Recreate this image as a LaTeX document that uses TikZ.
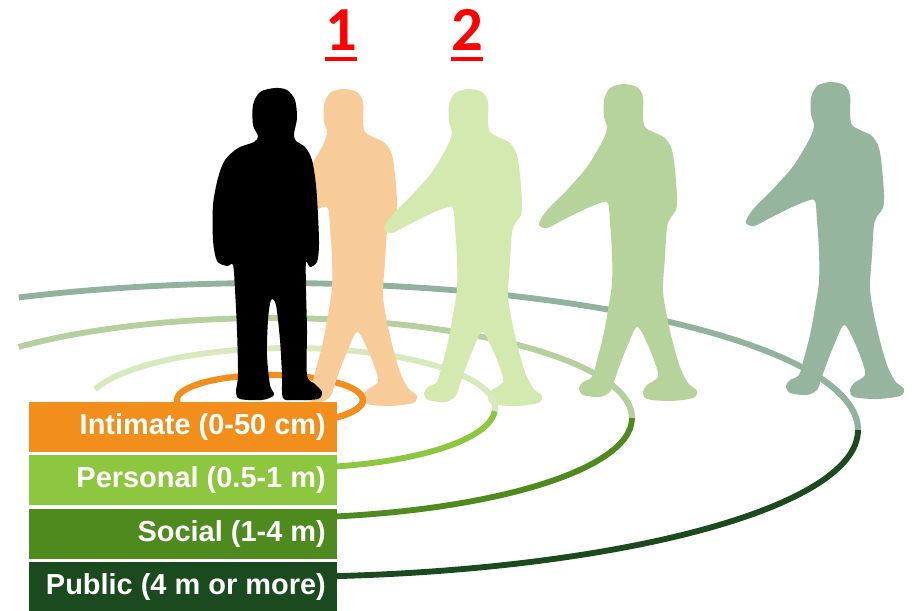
\documentclass[tikz,border=0pt]{standalone}
\usepackage{fontspec}
\newfontfamily\zonefont{Liberation Sans}
\newfontfamily\markfont{Carlito}
\usetikzlibrary{positioning,calc}

\definecolor{orng}{HTML}{F28E1C}
\definecolor{pers}{HTML}{8DC63F}
\definecolor{soc}{HTML}{4F8A1F}
\definecolor{pub}{HTML}{1A4A1E}
\definecolor{persb}{HTML}{D8EABD}
\definecolor{socb}{HTML}{B6CF9F}
\definecolor{pubb}{HTML}{93B29E}
\definecolor{peach}{HTML}{F8CC98}
\definecolor{man2}{HTML}{D4E9B0}
\definecolor{man3}{HTML}{B7D39C}
\definecolor{man4}{HTML}{95B59F}

\tikzset{
  ring/.style={line width=5pt},
  zone/.style={minimum width=9.24cm, minimum height=1.5cm, inner sep=0pt,
    outer sep=0pt},
  zlabel/.style={anchor=east, inner sep=0pt, text=white,
    font=\zonefont\bfseries\fontsize{24.7}{28}\selectfont},
  num/.style={inner sep=0pt, text=red, anchor=base,
    font=\markfont\bfseries\fontsize{53.5}{60}\selectfont},
  numbar/.style={red, line width=3.3pt},
  walker/.pic={
    \fill[#1] plot[smooth cycle] coordinates {
      (93,14) (107,17) (113,27) (113,47) (115,57) (123,62) (135,68) (142,80)
      (145,100) (147,127) (146,140) (141,147) (137,157) (135,187) (133,220)
      (137,247) (143,273) (150,297) (158,313) (167,321) (163,328) (140,331)
      (117,329) (113,322) (117,315) (128,307) (125,293) (117,273) (107,257)
      (97,277) (88,300) (83,315) (80,322) (70,327) (53,325) (49,318) (53,312)
      (62,307) (67,290) (73,267) (78,240) (82,213) (82,183) (80,153) (78,133)
      (70,133) (53,140) (33,150) (17,158) (9,155) (12,147) (20,137) (37,120)
      (57,97) (73,70) (77,57) (74,47) (74,30) (80,18)};
  }
}

\begin{document}
\begin{tikzpicture}[x=0.03cm, y=-0.03cm]
  \useasboundingbox (0,0) rectangle (923,610);
  \fill[white] (0,0) rectangle (923,610);

  \coordinate (c1) at (270,400);
  \coordinate (c2) at (290,408);
  \coordinate (c3) at (272,418);
  \coordinate (c4) at (272,430);

  \draw[ring, pubb] (c4) ++(0:586 and 147) arc[start angle=0, end angle=-115.6, x radius=586, y radius=147];
  \draw[ring, socb] (c3) ++(0:360 and 100) arc[start angle=0, end angle=-134.7, x radius=360, y radius=100];
  \draw[ring, persb] (c2) ++(0:205 and 60) arc[start angle=0, end angle=-162, x radius=205, y radius=60];
  \draw[ring, orng, line width=5.3pt] (c1) ellipse [x radius=93, y radius=25];

  \pic at (250,75) {walker=peach};
  \pic at (375,75) {walker=man2};
  \pic at (530,70) {walker=man3};
  \pic at (737,68) {walker=man4};

  \draw[ring, pubb] (c4) ++(-20:586 and 147) arc[start angle=-20, end angle=0, x radius=586, y radius=147];
  \draw[ring, pub] (c4) ++(0:586 and 147) arc[start angle=0, end angle=90, x radius=586, y radius=147];
  \draw[ring, socb] (c3) ++(-20:360 and 100) arc[start angle=-20, end angle=0, x radius=360, y radius=100];
  \draw[ring, soc] (c3) ++(0:360 and 100) arc[start angle=0, end angle=90, x radius=360, y radius=100];
  \draw[ring, persb] (c2) ++(-20:205 and 60) arc[start angle=-20, end angle=3, x radius=205, y radius=60];
  \draw[ring, pers] (c2) ++(3:205 and 60) arc[start angle=3, end angle=90, x radius=205, y radius=60];
  \draw[ring, orng, line width=5.3pt] (c1) ++(-20:93 and 25) arc[start angle=-20, end angle=90, x radius=93, y radius=25];

  \fill[black] plot[smooth cycle] coordinates {
    (275,88) (287,90) (295,100) (297,118) (294,134) (296,141) (305,147)
    (312,160) (316,185) (318,215) (319,245) (317,262) (310,267) (306,262)
    (306,290) (307,330) (307,375) (315,384) (322,392) (318,399) (295,400)
    (283,398) (282,375) (280,340) (276,305) (271,300) (268,320) (267,355)
    (270,385) (274,395) (262,400) (240,399) (236,392) (238,375) (237,330)
    (235,290) (233,265) (227,266) (217,261) (213,240) (213,205) (218,178)
    (225,160) (238,148) (254,142) (258,136) (253,125) (253,105) (260,92)};

  \node[zone, fill=orng, anchor=north west] (z1) at (29,402) {};
  \node[zone, fill=pers, below=0.1cm of z1] (z2) {};
  \node[zone, fill=soc, below=0.1cm of z2] (z3) {};
  \node[zone, fill=pub, below=0.1cm of z3] (z4) {};
  \node[zlabel] (t1) at ($(z1.east)+(-11,0)$) {Intimate (0-50 cm)};
  \node[zlabel] (t2) at ($(z2.east)+(-11,0)$) {Personal (0.5-1 m)};
  \node[zlabel] (t3) at ($(z3.east)+(-11,0)$) {Social (1-4 m)};
  \node[zlabel] (t4) at ($(z4.east)+(-11,0)$) {Public (4 m or more)};

  \node[num] (n1) at (341,50) {1};
  \node[num] (n2) at (467,50) {2};
  \draw[numbar] ($(n1.base west)+(0,9)$) -- ($(n1.base east)+(0,9)$);
  \draw[numbar] ($(n2.base west)+(0,9)$) -- ($(n2.base east)+(0,9)$);
\end{tikzpicture}
\end{document}
